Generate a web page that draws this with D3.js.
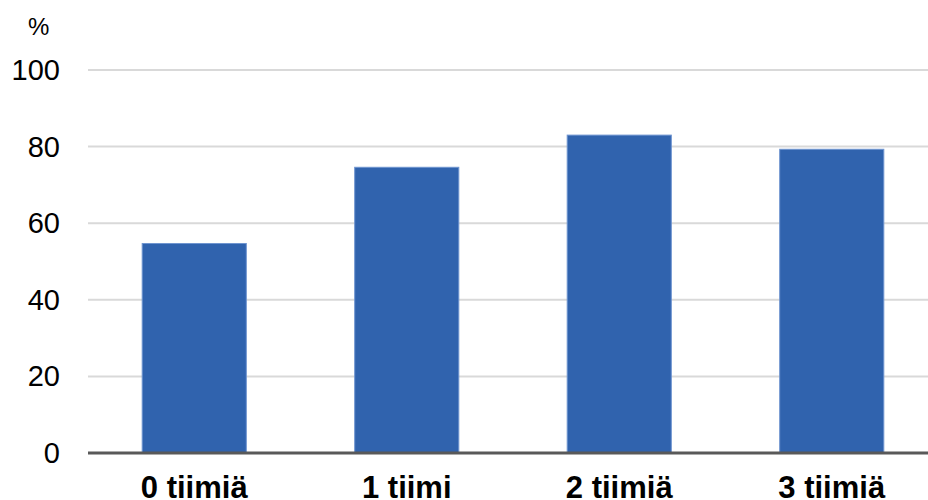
<!DOCTYPE html>
<html>
<head>
<meta charset="utf-8">
<script src="https://cdn.jsdelivr.net/npm/d3@7"></script>
<style>
  body { margin: 0; background: #fff; }
  text { font-family: "Liberation Sans", Arial, sans-serif; }
</style>
</head>
<body>
<div id="chart"></div>
<script>
// data
var categories = ["0 tiimiä", "1 tiimi", "2 tiimiä", "3 tiimiä"];
var values = [54.7, 74.6, 83.0, 79.3];
var yTicks = [0, 20, 40, 60, 80, 100];

var width = 928, height = 500;
var margin = {top: 70, right: -10, bottom: 47, left: 88};

var svg = d3.select("#chart")
  .append("svg")
    .attr("width", width)
    .attr("height", height);

var x = d3.scaleBand()
    .domain(categories)
    .range([margin.left, width - margin.right])
    .paddingInner(0.51)
    .paddingOuter(0.255);

var y = d3.scaleLinear()
    .domain([0, 100])
    .range([height - margin.bottom, margin.top]);

// gridlines
svg.append("g")
  .selectAll("line")
  .data(yTicks.filter(d => d > 0))
  .enter()
  .append("line")
    .attr("x1", margin.left)
    .attr("x2", width)
    .attr("y1", d => y(d))
    .attr("y2", d => y(d))
    .style("stroke", "#d9d9d9")
    .style("stroke-width", 2);

// y tick labels
svg.append("g")
  .selectAll("text")
  .data(yTicks)
  .enter()
  .append("text")
    .attr("x", 60)
    .attr("y", d => y(d) + 10)
    .style("text-anchor", "end")
    .style("font-size", "29px")
    .style("fill", "#000")
    .text(d => d);

// unit label
svg.append("text")
    .attr("x", 28)
    .attr("y", 35)
    .style("font-size", "24px")
    .text("%");

// bars
svg.selectAll("rect.bar")
  .data(values)
  .enter()
  .append("rect")
    .attr("class", "bar")
    .attr("x", (d, i) => x(categories[i]))
    .attr("width", x.bandwidth())
    .attr("y", d => y(d))
    .attr("height", d => y(0) - y(d))
    .style("fill", "#3063ae")
    .style("stroke", "#6f95d0")
    .style("stroke-width", 1);

// baseline
svg.append("line")
    .attr("x1", margin.left)
    .attr("x2", width)
    .attr("y1", y(0))
    .attr("y2", y(0))
    .style("stroke", "#595959")
    .style("stroke-width", 3);

// category labels
svg.append("g")
  .selectAll("text")
  .data(categories)
  .enter()
  .append("text")
    .attr("x", d => x(d) + x.bandwidth() / 2)
    .attr("y", 498)
    .style("text-anchor", "middle")
    .style("font-size", "31px")
    .style("font-weight", "bold")
    .text(d => d);
</script>
</body>
</html>
